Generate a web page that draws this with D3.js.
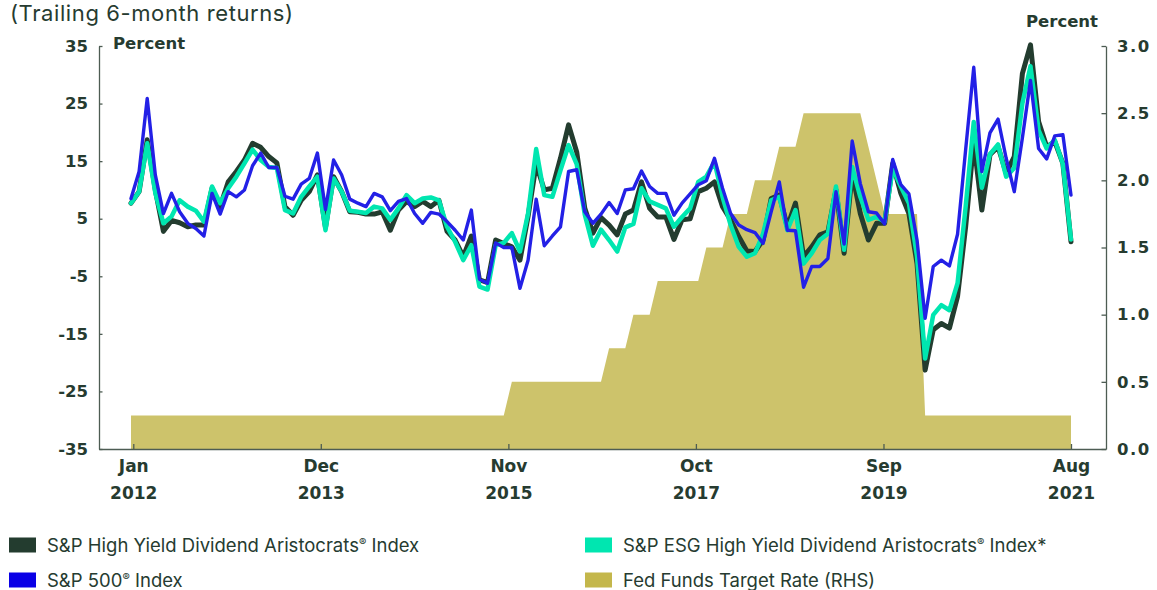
<!DOCTYPE html>
<html>
<head>
<meta charset="utf-8">
<script src="https://cdn.jsdelivr.net/npm/d3@7"></script>
<style>
  body { margin: 0; background: #fff; }
  svg text { font-family: Inter, "Noto Sans", sans-serif; fill: #263b30; }
  svg .bold { font-family: "DejaVu Sans", Inter, sans-serif; font-weight: 700; }
</style>
</head>
<body>
<svg id="chart" width="1157" height="590"></svg>
<script>

// monthly observations, Jan 2012 .. Sep 2021 (117 points)
var months = d3.timeMonth.range(new Date(2012, 0, 1), new Date(2021, 9, 1));

// S&P High Yield Dividend Aristocrats Index, trailing 6-month return (%)
var hyda = [7.7, 9.7, 18.7, 10.0, 2.8, 4.7, 4.3, 3.6, 3.9, 3.9,
    10.3, 7.1, 11.4, 13.2, 15.2, 18.1, 17.4, 15.8, 14.7, 7.1,
    5.6, 8.2, 9.7, 12.6, 3.5, 12.3, 9.7, 6.2, 6.1, 5.8,
    5.8, 6.2, 3.0, 6.5, 8.0, 7.1, 8.0, 7.1, 8.2, 2.8,
    1.3, -1.6, 2.0, -5.6, -6.1, 1.3, 0.7, 0.1, -2.2, 5.4,
    14.5, 10.0, 10.3, 15.5, 21.3, 16.6, 6.8, 2.5, 5.2, 3.9,
    2.2, 5.8, 6.5, 11.4, 6.8, 5.3, 5.3, 1.4, 4.8, 5.0,
    9.7, 10.3, 11.4, 7.1, 4.8, 1.9, -0.6, -0.7, 1.3, 8.5,
    9.1, 3.6, 7.7, -1.6, 0.1, 2.2, 2.7, 10.0, -1.0, 12.9,
    5.9, 1.3, 4.2, 4.2, 14.6, 9.4, 5.9, -2.8, -21.3, -14.3,
    -13.2, -14.0, -8.5, 3.6, 18.4, 6.5, 16.1, 17.5, 12.9, 15.8,
    30.2, 35.2, 21.9, 17.5, 18.4, 14.6, 1.0];

// S&P ESG High Yield Dividend Aristocrats Index
var esg = [7.7, 9.7, 18.1, 9.5, 4.2, 5.4, 8.2, 7.1, 6.4, 4.5,
    10.6, 7.7, 10.3, 12.3, 14.6, 17.0, 15.2, 14.0, 13.8, 6.5,
    5.9, 8.8, 10.6, 12.3, 3.0, 12.0, 9.7, 6.4, 6.2, 6.0,
    7.1, 6.8, 4.8, 6.8, 9.1, 7.7, 8.5, 8.7, 8.2, 3.6,
    1.0, -2.2, 0.4, -6.8, -7.3, 0.4, 0.8, 2.5, -0.7, 5.9,
    17.1, 9.1, 8.8, 13.4, 17.8, 14.5, 5.7, 0.3, 3.1, 1.3,
    -0.7, 3.5, 4.1, 10.3, 8.0, 7.4, 6.8, 3.6, 5.3, 6.8,
    11.4, 12.3, 14.9, 8.8, 3.9, 0.1, -1.6, -1.0, 2.4, 8.2,
    8.8, 3.0, 6.5, -2.8, -1.0, 1.3, 2.4, 10.6, -0.4, 14.0,
    8.8, 4.8, 5.3, 4.5, 13.7, 10.6, 7.7, -1.6, -19.3, -11.7,
    -10.0, -10.9, -6.2, 7.1, 21.8, 10.4, 16.2, 17.9, 12.3, 13.8,
    25.0, 31.5, 20.4, 17.2, 18.7, 14.5, 1.4];

// S&P 500 Index
var sp500 = [8.5, 13.2, 25.9, 12.6, 5.9, 9.4, 6.2, 4.2, 3.3, 2.0,
    9.4, 5.8, 9.7, 8.8, 10.0, 14.2, 16.4, 13.9, 13.9, 8.9,
    8.4, 11.0, 12.0, 16.4, 6.6, 15.2, 12.6, 8.4, 7.7, 7.1,
    9.4, 8.8, 6.4, 8.0, 8.5, 5.9, 4.2, 6.1, 5.8, 4.5,
    3.0, 1.3, 6.5, -5.5, -6.2, 0.8, 0.0, 0.0, -7.1, -2.2,
    8.4, 0.3, 2.0, 3.6, 13.2, 13.5, 6.2, 4.2, 5.8, 7.8,
    5.9, 10.0, 10.2, 13.3, 10.6, 9.4, 9.4, 5.6, 7.7, 9.3,
    10.9, 11.6, 15.5, 10.3, 5.9, 3.9, 3.1, 2.6, 0.7, 6.2,
    11.4, 3.0, 2.9, -6.9, -3.3, -3.3, -1.9, 9.7, 0.6, 18.5,
    11.1, 6.2, 6.0, 4.1, 15.3, 10.9, 9.3, 1.3, -12.3, -3.3,
    -2.2, -3.2, 2.3, 17.0, 31.3, 13.2, 19.9, 22.3, 15.5, 9.7,
    19.0, 29.0, 17.2, 15.4, 19.4, 19.6, 9.1];

// Fed funds target rate, upper bound (%), right-hand scale
var fedFunds = [
    0.25, 0.25, 0.25, 0.25, 0.25, 0.25, 0.25, 0.25, 0.25, 0.25, 0.25, 0.25,
    0.25, 0.25, 0.25, 0.25, 0.25, 0.25, 0.25, 0.25, 0.25, 0.25, 0.25, 0.25,
    0.25, 0.25, 0.25, 0.25, 0.25, 0.25, 0.25, 0.25, 0.25, 0.25, 0.25, 0.25,
    0.25, 0.25, 0.25, 0.25, 0.25, 0.25, 0.25, 0.25, 0.25, 0.25, 0.25, 0.5,
    0.5, 0.5, 0.5, 0.5, 0.5, 0.5, 0.5, 0.5, 0.5, 0.5, 0.5, 0.75,
    0.75, 0.75, 1.0, 1.0, 1.0, 1.25, 1.25, 1.25, 1.25, 1.25, 1.25, 1.5,
    1.5, 1.5, 1.75, 1.75, 1.75, 2.0, 2.0, 2.0, 2.25, 2.25, 2.25, 2.5,
    2.5, 2.5, 2.5, 2.5, 2.5, 2.5, 2.5, 2.25, 2.0, 1.75, 1.75, 1.75,
    1.75, 1.75, 0.25, 0.25, 0.25, 0.25, 0.25, 0.25, 0.25, 0.25, 0.25, 0.25,
    0.25, 0.25, 0.25, 0.25, 0.25, 0.25, 0.25, 0.25, 0.25];

var leftTicks = [-35, -25, -15, -5, 5, 15, 25, 35];
var rightTicks = [0, 0.5, 1.0, 1.5, 2.0, 2.5, 3.0];
// x tick positions (in observation index) and their two-line labels
var xTickIdx = [0.28, 23.42, 46.57, 69.71, 92.86, 116];
var xTickMonth = ["Jan", "Dec", "Nov", "Oct", "Sep", "Aug"];
var xTickYear = ["2012", "2013", "2015", "2017", "2019", "2021"];

var seriesNames = ["S&P High Yield Dividend Aristocrats® Index",
    "S&P ESG High Yield Dividend Aristocrats® Index*",
    "S&P 500® Index",
    "Fed Funds Target Rate (RHS)"];

var colors = {
    hyda: "#233c2f",
    esg: "#00e6b0",
    sp500: "#2320e6",
    fed: "#cdc36b",
    fedKey: "#c4b74b",
    spKey: "#0a00e6",
    axis: "#4d5c53"
};

var svg = d3.select("#chart");

var plotLeft = 99, plotRight = 1106, plotTop = 46, plotBottom = 449;

// first point at x=131, last at x=1071
var x = d3.scaleLinear().domain([-3.95, 120.32]).range([plotLeft, plotRight]);
var yL = d3.scaleLinear().domain([-35, 35]).range([plotBottom, plotTop]);
var yR = d3.scaleLinear().domain([0, 3]).range([plotBottom, plotTop]);

// title
svg.append("text")
    .attr("x", 10).attr("y", 21)
    .style("font-size", "22px")
    .style("letter-spacing", "0.6px")
    .text("(Trailing 6-month returns)");

// fed funds area
var area = d3.area()
    .x(function (d, i) { return x(i); })
    .y0(yR(0))
    .y1(function (d) { return yR(d); });

svg.append("path")
    .datum(fedFunds)
    .attr("fill", colors.fed)
    .attr("d", area);

// axes
var leftAxis = svg.append("g")
    .attr("transform", "translate(" + plotLeft + ",0)")
    .call(d3.axisLeft(yL).tickValues(leftTicks).tickSizeInner(-3.5).tickSizeOuter(0).tickPadding(11)
        .tickFormat(function (d) { return String(d); }));

var rightAxis = svg.append("g")
    .attr("transform", "translate(" + plotRight + ",0)")
    .call(d3.axisRight(yR).tickValues(rightTicks).tickSizeInner(-4.5).tickSizeOuter(0).tickPadding(11)
        .tickFormat(d3.format(".1f")));

var bottomAxis = svg.append("g")
    .attr("transform", "translate(0," + plotBottom + ")")
    .call(d3.axisBottom(x).tickValues(xTickIdx).tickSizeInner(-5).tickSizeOuter(0).tickFormat(""));

[leftAxis, rightAxis, bottomAxis].forEach(function (g) {
    g.attr("font-family", null).attr("font-size", null);
    g.select(".domain").attr("stroke", colors.axis).attr("stroke-width", 1.3);
    g.selectAll(".tick line").attr("stroke", colors.axis).attr("stroke-width", 1.3);
    g.selectAll("text")
        .attr("class", "bold")
        .style("font-size", "16.5px")
        .attr("fill", "#263b30");
});
rightAxis.selectAll("text").style("letter-spacing", "1.5px");

bottomAxis.selectAll(".tick").each(function (d, i) {
    var t = d3.select(this).select("text")
        .attr("y", 0).attr("dy", null)
        .style("font-size", "17px");
    t.append("tspan").attr("x", 0).attr("y", 22.5).text(xTickMonth[i]);
    t.append("tspan").attr("x", 0).attr("y", 50).text(xTickYear[i]);
});

// axis captions
svg.append("text")
    .attr("class", "bold")
    .attr("x", 113).attr("y", 49)
    .style("font-size", "16.5px")
    .text("Percent");

svg.append("text")
    .attr("class", "bold")
    .attr("x", 1098).attr("y", 27)
    .attr("text-anchor", "end")
    .style("font-size", "16.5px")
    .text("Percent");

// lines
var line = d3.line()
    .x(function (d, i) { return x(i); })
    .y(function (d) { return yL(d); });

[[hyda, colors.hyda, 5], [esg, colors.esg, 4.5], [sp500, colors.sp500, 3.4]].forEach(function (s) {
    svg.append("path")
        .datum(s[0])
        .attr("fill", "none")
        .attr("stroke", s[1])
        .attr("stroke-width", s[2])
        .attr("stroke-linejoin", "round")
        .attr("stroke-linecap", "round")
        .attr("d", line);
});

// legend
var legendItems = [
    {name: seriesNames[0], color: colors.hyda, col: 0, row: 0},
    {name: seriesNames[1], color: colors.esg, col: 1, row: 0},
    {name: seriesNames[2], color: colors.spKey, col: 0, row: 1},
    {name: seriesNames[3], color: colors.fedKey, col: 1, row: 1}
];

var legend = svg.selectAll(".legend")
    .data(legendItems)
    .enter().append("g")
    .attr("class", "legend")
    .attr("transform", function (d) {
        return "translate(" + (d.col ? 585 : 9) + "," + (d.row ? 580 : 545) + ")";
    });

legend.append("rect")
    .attr("x", 0).attr("y", -7.5)
    .attr("width", 27).attr("height", 15)
    .attr("fill", function (d) { return d.color; });

legend.append("text")
    .attr("x", 38).attr("y", 6.5)
    .style("font-size", "18.5px")
    .attr("fill", "#2f4238")
    .each(function (d) {
        var t = d3.select(this);
        var parts = d.name.split("®");
        t.append("tspan").text(parts[0]);
        if (parts.length > 1) {
            t.append("tspan").attr("dy", -6).style("font-size", "11px").text("®");
            t.append("tspan").attr("dy", 6).text(parts[1]);
        }
    });

</script>
</body>
</html>
